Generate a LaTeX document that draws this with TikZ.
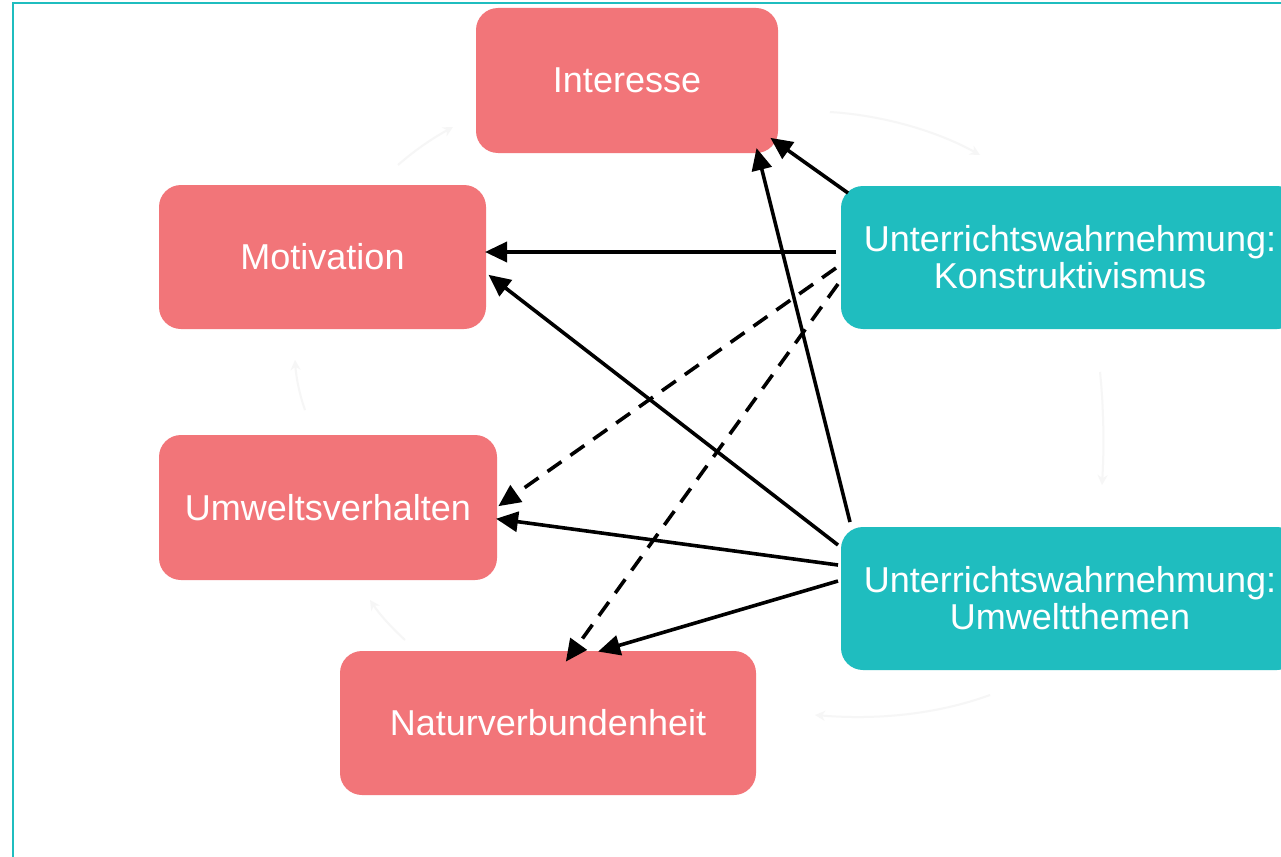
\documentclass[tikz,border=0pt]{standalone}
\usepackage{fontspec}
\setmainfont{Liberation Sans}
\usetikzlibrary{arrows.meta}
\definecolor{pinkbox}{RGB}{242,117,121}
\definecolor{tealbox}{RGB}{31,189,191}
\definecolor{faint}{RGB}{246,246,246}
\tikzset{
  pbox/.style={fill=pinkbox, draw=none, rounded corners=22pt, text=white, align=center,
    font=\fontsize{36}{37}\selectfont, inner sep=0pt},
  tbox/.style={fill=tealbox, draw=none, rounded corners=22pt, text=white, align=center,
    font=\fontsize{36}{37}\selectfont, inner sep=0pt},
  conn/.style={line width=3.6pt, -{Triangle[length=22pt,width=20pt]}, shorten >=-2pt},
  dconn/.style={conn, dash pattern=on 17pt off 11pt},
  ghost/.style={draw=faint, line width=2pt, -{Stealth[length=10pt,width=10pt]}}
}
\begin{document}
\begin{tikzpicture}[x=1pt,y=-1pt]
\useasboundingbox (0,0) rectangle (1281,856);
\fill[white] (0,0) rectangle (1281,856);
\draw[tealbox, line width=2pt] (13,900) -- (13,3) -- (1300,3);
% faint background cycle
\draw[ghost] (398,165) .. controls (415,150) and (433,138) .. (453,127);
\draw[ghost] (830,112) .. controls (880,115) and (935,130) .. (980,155);
\draw[ghost] (1100,372) .. controls (1104,410) and (1104,450) .. (1102,485);
\draw[ghost] (990,695) .. controls (935,715) and (875,720) .. (815,715);
\draw[ghost] (405,640) .. controls (392,628) and (380,615) .. (370,600);
\draw[ghost] (305,410) .. controls (299,393) and (296,376) .. (295,360);
% nodes
\node[pbox, minimum width=302pt, minimum height=145pt] (int) at (627,80.5) {Interesse};
\node[pbox, minimum width=327pt, minimum height=144pt] (mot) at (322.5,257) {Motivation};
\node[pbox, minimum width=338pt, minimum height=145pt] (umv) at (328,507.5) {Umweltsverhalten};
\node[pbox, minimum width=416pt, minimum height=144pt] (nat) at (548,723) {Naturverbundenheit};
\node[tbox, minimum width=458pt, minimum height=143pt] (kon) at (1070,257.5) {Unterrichtswahrnehmung:\\Konstruktivismus};
\node[tbox, minimum width=458pt, minimum height=143pt] (umt) at (1070,598.5) {Unterrichtswahrnehmung:\\Umweltthemen};
% connector anchor coordinates
\coordinate (k1) at (848,193);
\coordinate (k2) at (836,252);
\coordinate (k3) at (836,268);
\coordinate (k4) at (838,284);
\coordinate (u1) at (850,522);
\coordinate (u2) at (838,545);
\coordinate (u3) at (838,565);
\coordinate (u4) at (838,581);
\coordinate (i1) at (772,139);
\coordinate (i2) at (757,150);
\coordinate (m1) at (487,252);
\coordinate (m2) at (490,276);
\coordinate (v1) at (500,505);
\coordinate (v2) at (498,519);
\coordinate (n1) at (567,660);
\coordinate (n2) at (600,651);
% arrows from Konstruktivismus
\draw[conn] (k1) -- (i1);
\draw[conn] (k2) -- (m1);
\draw[dconn] (k3) -- (v1);
\draw[dconn] (k4) -- (n1);
% arrows from Umweltthemen
\draw[conn] (u1) -- (i2);
\draw[conn] (u2) -- (m2);
\draw[conn] (u3) -- (v2);
\draw[conn] (u4) -- (n2);
\end{tikzpicture}
\end{document}
